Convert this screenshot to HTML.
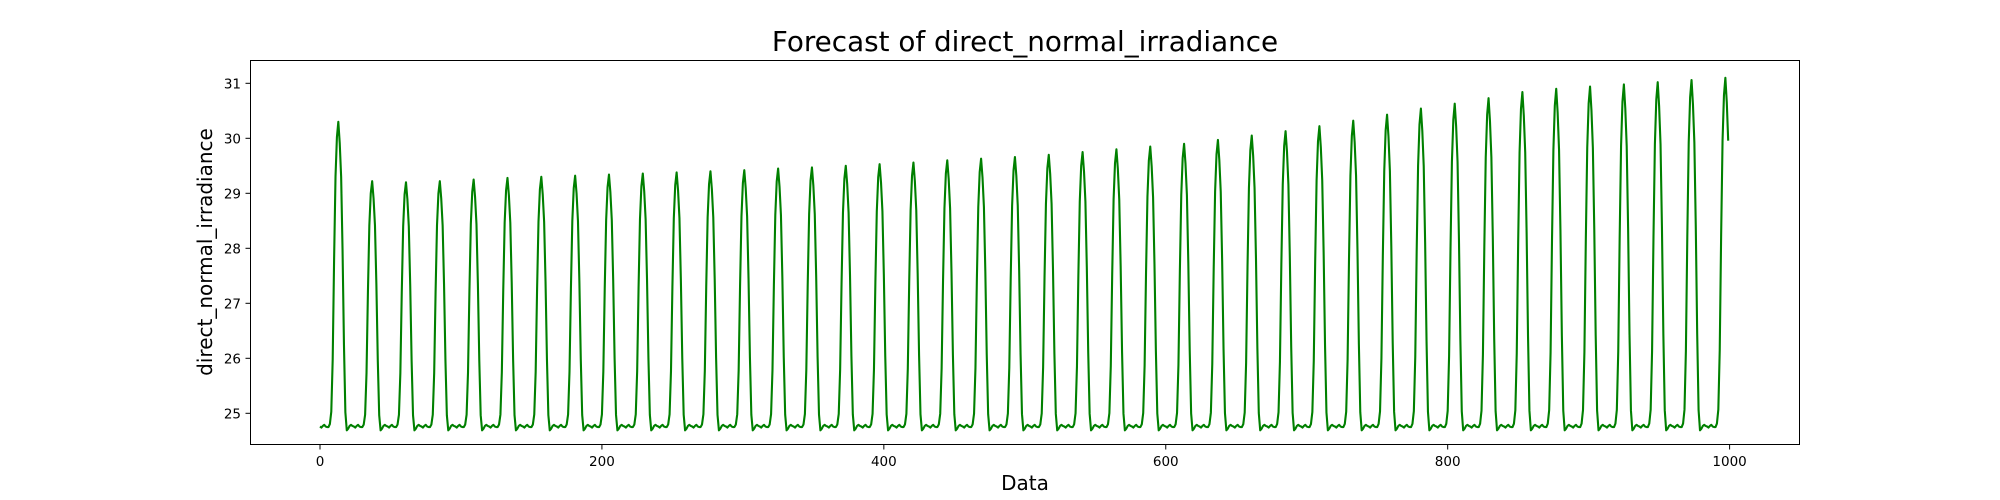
<!DOCTYPE html>
<html><head><meta charset="utf-8"><style>
body{margin:0;background:#fff;}
svg{display:block;font-family:"DejaVu Sans","Liberation Sans",sans-serif;}
</style></head><body>
<svg id="chart" width="2000" height="500" viewBox="0 0 2000 500" xmlns="http://www.w3.org/2000/svg">
<rect width="2000" height="500" fill="#fff"/>
<text x="1025" y="51" font-size="27.8" text-anchor="middle" fill="#000">Forecast of direct_normal_irradiance</text>
<text x="1025" y="490" font-size="20" text-anchor="middle" fill="#000">Data</text>
<text transform="translate(212,252) rotate(-90)" font-size="20" text-anchor="middle" fill="#000">direct_normal_irradiance</text>
<g id="xticks"></g>
<g id="yticks"></g>
<path id="series" fill="none" stroke="#008000" stroke-width="2.1" stroke-linejoin="round"/>
<rect x="250.5" y="60.5" width="1549" height="384" fill="none" stroke="#000" stroke-width="1"/>
</svg>
<script>
const xTicks = [0, 200, 400, 600, 800, 1000];
const yTicks = [25, 26, 27, 28, 29, 30, 31];
const dailyPeaks = [30.3, 29.22, 29.2, 29.22, 29.25, 29.28, 29.3, 29.32, 29.34, 29.36, 29.38, 29.4, 29.42, 29.45, 29.47, 29.5, 29.53, 29.56, 29.6, 29.63, 29.66, 29.7, 29.75, 29.8, 29.85, 29.9, 29.97, 30.05, 30.13, 30.22, 30.32, 30.43, 30.54, 30.63, 30.73, 30.84, 30.9, 30.94, 30.98, 31.02, 31.06, 31.1];
const nightBase = [24.76, 24.74, 24.77, 24.79, 24.76, 24.75, 24.75, 24.75, 24.75, 24.75, 24.75, 24.75, 24.75, 24.75, 24.75, 24.75, 24.75, 24.75, 24.74, 24.69, 24.72, 24.77, 24.79, 24.77];
const hourShape = [0, 0, 0, 0, 0, 0, 0, 0.01, 0.05, 0.22, 0.55, 0.82, 0.95, 1.0, 0.93, 0.82, 0.58, 0.27, 0.05, 0, 0, 0, 0, 0];
const nPoints = 1000;

const X0 = 320, XS = 1.4096, Y0 = 413.3, YS = 55;
const xs = v => X0 + v * XS;
const ys = v => Y0 - (v - 25) * YS;
const NS = "http://www.w3.org/2000/svg";
function mk(tag, attrs, parent) { const e = document.createElementNS(NS, tag); for (const k in attrs) e.setAttribute(k, attrs[k]); parent.appendChild(e); return e; }

const gx = document.getElementById('xticks');
xTicks.forEach(t => {
  const l = mk('line', {x1: xs(t), x2: xs(t), y1: 444.5, y2: 449.5, stroke: '#000'}, gx);
  
  
  const tx = mk('text', {x: xs(t), y: 466, 'font-size': 13.5, 'text-anchor': 'middle'}, gx);
  tx.textContent = t;
  
  
});
const gy = document.getElementById('yticks');
yTicks.forEach(t => {
  const l = mk('line', {x1: 245.5, x2: 250.5, y1: ys(t), y2: ys(t), stroke: '#000'}, gy);
  
  
  const tx = mk('text', {x: 241, y: ys(t) + 5, 'font-size': 13.5, 'text-anchor': 'end'}, gy);
  tx.textContent = t;
  
  
});

let d = '';
for (let i = 0; i < nPoints; i++) {
  const day = Math.floor(i / 24), h = i % 24;
  const base = nightBase[h];
  const v = base + (dailyPeaks[day] - base) * hourShape[h];
  d += (i ? 'L' : 'M') + xs(i).toFixed(2) + ',' + ys(v).toFixed(2);
}
document.getElementById('series').setAttribute('d', d);
</script>
</body></html>
